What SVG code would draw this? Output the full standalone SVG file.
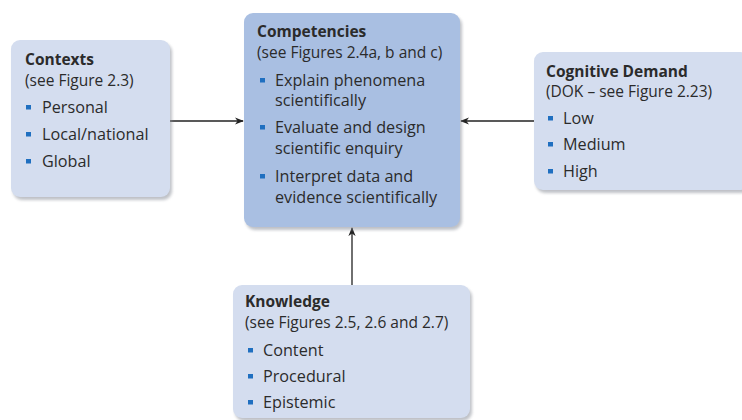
<svg xmlns="http://www.w3.org/2000/svg" width="742" height="420" viewBox="0 0 742 420">
<defs>
<style>
.box{fill:#d4ddef;}
.main{fill:#a9bfe2;}
.shadow{fill:#8a8f99;opacity:0.55;}
.t{font-family:"Open Sans","Lato",sans-serif;fill:#2b2b2b;}
.h{font-size:15.5px;font-weight:bold;}
.s{font-size:15.5px;}
.b{font-size:16.2px;}
.bul{fill:#1f6fc0;}
.conn{stroke:#222;stroke-width:1.3;fill:none;}
</style>
<marker id="arr" viewBox="0 0 10 10" refX="9" refY="5" markerWidth="9" markerHeight="9" markerUnits="userSpaceOnUse" orient="auto">
<path d="M0,1 L10,5 L0,9 L3,5 Z" fill="#222"/>
</marker>
<filter id="blur" x="-10%" y="-10%" width="130%" height="130%"><feGaussianBlur stdDeviation="1.5"/></filter>
</defs>
<rect width="742" height="420" fill="#ffffff"/>
<g id="connectors">
<line class="conn" x1="170" y1="121" x2="243" y2="121" marker-end="url(#arr)"/>
<line class="conn" x1="534" y1="121" x2="461" y2="121" marker-end="url(#arr)"/>
<line class="conn" x1="352" y1="285" x2="352" y2="228" marker-end="url(#arr)"/>
</g>
<g id="contexts">
<rect class="shadow" x="13" y="43" width="159" height="157" rx="9" filter="url(#blur)"/>
<rect class="box" x="11" y="40" width="159" height="157" rx="9"/>
<text class="t h" x="25" y="65">Contexts</text>
<text class="t s" x="25" y="86">(see Figure 2.3)</text>
<rect class="bul" x="26" y="105" width="5" height="4.5"/>
<text class="t b" x="42" y="113">Personal</text>
<rect class="bul" x="26" y="132" width="5" height="4.5"/>
<text class="t b" x="42" y="140">Local/national</text>
<rect class="bul" x="26" y="159" width="5" height="4.5"/>
<text class="t b" x="42" y="167">Global</text>
</g>
<g id="competencies">
<rect class="shadow" x="246" y="16" width="216" height="214" rx="9" filter="url(#blur)"/>
<rect class="main" x="244" y="13" width="216" height="214" rx="9"/>
<text class="t h" x="257" y="37">Competencies</text>
<text class="t s" x="257" y="58">(see Figures 2.4a, b and c)</text>
<rect class="bul" x="260" y="78" width="5" height="4.5"/>
<text class="t b" x="275" y="86">Explain phenomena</text>
<text class="t b" x="275" y="106">scientifically</text>
<rect class="bul" x="260" y="125" width="5" height="4.5"/>
<text class="t b" x="275" y="133">Evaluate and design</text>
<text class="t b" x="275" y="154">scientific enquiry</text>
<rect class="bul" x="260" y="174" width="5" height="4.5"/>
<text class="t b" x="275" y="182">Interpret data and</text>
<text class="t b" x="275" y="203">evidence scientifically</text>
</g>
<g id="cognitive">
<rect class="shadow" x="536" y="55" width="215" height="138" rx="9" filter="url(#blur)"/>
<rect class="box" x="534" y="52" width="215" height="138" rx="9"/>
<text class="t h" x="546" y="77">Cognitive Demand</text>
<text class="t s" x="546" y="97">(DOK – see Figure 2.23)</text>
<rect class="bul" x="548" y="116" width="5" height="4.5"/>
<text class="t b" x="563" y="124">Low</text>
<rect class="bul" x="548" y="142" width="5" height="4.5"/>
<text class="t b" x="563" y="150">Medium</text>
<rect class="bul" x="548" y="169" width="5" height="4.5"/>
<text class="t b" x="563" y="177">High</text>
</g>
<g id="knowledge">
<rect class="shadow" x="235" y="288" width="237" height="133" rx="9" filter="url(#blur)"/>
<rect class="box" x="233" y="285" width="237" height="133" rx="9"/>
<text class="t h" x="245" y="307">Knowledge</text>
<text class="t s" x="245" y="328">(see Figures 2.5, 2.6 and 2.7)</text>
<rect class="bul" x="248" y="348" width="5" height="4.5"/>
<text class="t b" x="263" y="356">Content</text>
<rect class="bul" x="248" y="374" width="5" height="4.5"/>
<text class="t b" x="263" y="382">Procedural</text>
<rect class="bul" x="248" y="400" width="5" height="4.5"/>
<text class="t b" x="263" y="408">Epistemic</text>
</g>
</svg>
